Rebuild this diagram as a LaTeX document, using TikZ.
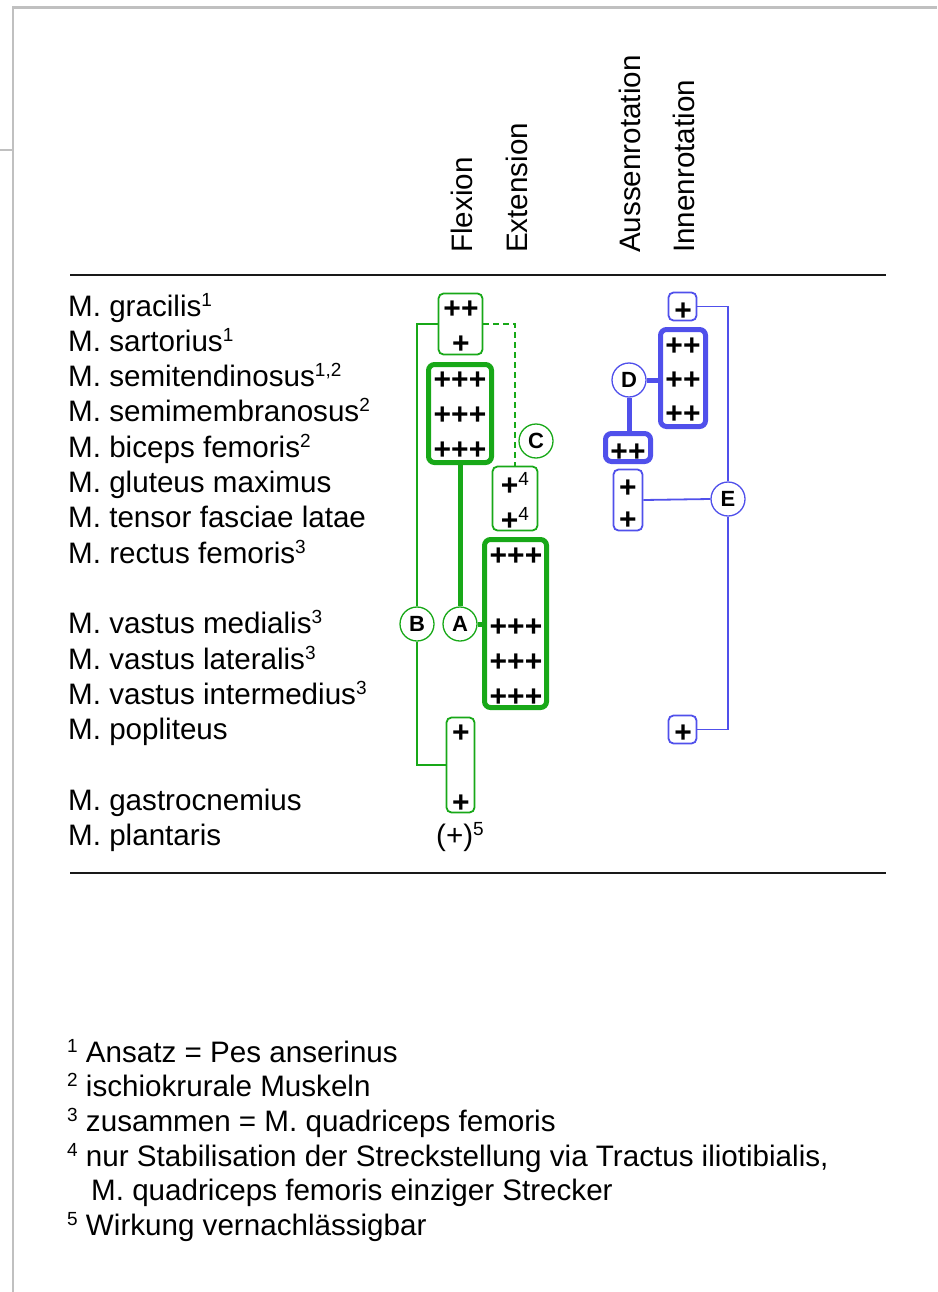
\documentclass[tikz,border=0pt]{standalone}
\usepackage{fontspec}
\setmainfont{Liberation Sans}
\definecolor{grn}{RGB}{24,168,24}
\definecolor{blu}{RGB}{80,80,235}
\definecolor{framegray}{RGB}{192,192,192}
\newcommand\sups[1]{\raisebox{10pt}{\fontsize{19}{19}\selectfont #1}}
\begin{document}
\begin{tikzpicture}[x=1pt,y=-1pt,
  lbl/.style={anchor=base west, inner sep=0, font=\fontsize{29.6}{35}\selectfont},
  hdr/.style={rotate=90, anchor=base west, inner sep=0, font=\fontsize{29.6}{35}\selectfont},
  pl/.style={anchor=base, inner sep=0, font=\bfseries\fontsize{30}{35}\selectfont},
  gbox/.style={draw=grn, line width=1.8pt, rounded corners=5pt, inner sep=0},
  gbbox/.style={draw=grn, line width=5pt, rounded corners=6pt, inner sep=0},
  bbox/.style={draw=blu, line width=1.8pt, rounded corners=5pt, inner sep=0},
  bbbox/.style={draw=blu, line width=5pt, rounded corners=6pt, inner sep=0},
  circ/.style={circle, fill=white, line width=1.3pt, minimum size=34pt, inner sep=0, font=\bfseries\fontsize{22}{22}\selectfont},
  gline/.style={draw=grn, line width=1.8pt},
  gbline/.style={draw=grn, line width=5pt},
  bline/.style={draw=blu, line width=1.8pt},
  bbline/.style={draw=blu, line width=5pt},
  rule/.style={draw=black!90, line width=1.4pt},
  frm/.style={draw=framegray, line width=2.6pt}
]
\useasboundingbox (0,0) rectangle (937,1292);
% frame
\draw[frm] (0,150) -- (13,150);
\draw[frm] (13,1292) -- (13,7.3) -- (937,7.3);

% headers
\node[hdr] (h1) at (472,253) {Flexion};
\node[hdr] (h2) at (527,253) {Extension};
\node[hdr] (h3) at (640,253) {Aussenrotation};
\node[hdr] (h4) at (694,253) {Innenrotation};

% rules
\draw[rule] (70,275) -- (886,275);
\draw[rule] (70,873) -- (886,873);

% row labels
\node[lbl] (l0)  at (68,316)   {M. gracilis\sups{1}};
\node[lbl] (l1)  at (68,351.3) {M. sartorius\sups{1}};
\node[lbl] (l2)  at (68,386.6) {M. semitendinosus\sups{1,2}};
\node[lbl] (l3)  at (68,421.9) {M. semimembranosus\sups{2}};
\node[lbl] (l4)  at (68,457.2) {M. biceps femoris\sups{2}};
\node[lbl] (l5)  at (68,492.5) {M. gluteus maximus};
\node[lbl] (l6)  at (68,527.8) {M. tensor fasciae latae};
\node[lbl] (l7)  at (68,563.1) {M. rectus femoris\sups{3}};
\node[lbl] (l9)  at (68,633.7) {M. vastus medialis\sups{3}};
\node[lbl] (l10) at (68,669.0) {M. vastus lateralis\sups{3}};
\node[lbl] (l11) at (68,704.3) {M. vastus intermedius\sups{3}};
\node[lbl] (l12) at (68,739.6) {M. popliteus};
\node[lbl] (l14) at (68,810.2) {M. gastrocnemius};
\node[lbl] (l15) at (68,845.5) {M. plantaris};

% green boxes
\node[gbox,  minimum width=44pt, minimum height=61pt]  (G1) at (460.5,324) {};
\node[gbbox, minimum width=63pt, minimum height=98pt]  (G2) at (460,413.5) {};
\node[gbox,  minimum width=45pt, minimum height=64pt]  (G3) at (515,498.5) {};
\node[gbbox, minimum width=62pt, minimum height=168pt] (G4) at (515.5,623.5) {};
\node[gbox,  minimum width=28pt, minimum height=95pt]  (G5) at (460.5,765) {};

% blue boxes
\node[bbox,  minimum width=28pt, minimum height=28pt] (Bl1) at (682.5,306.5) {};
\node[bbbox, minimum width=45pt, minimum height=97pt] (Bl2) at (683,378) {};
\node[bbbox, minimum width=45pt, minimum height=28pt] (Bl3) at (628,447.5) {};
\node[bbox,  minimum width=29pt, minimum height=61pt] (Bl4) at (628,500) {};
\node[bbox,  minimum width=28pt, minimum height=28pt] (Bl5) at (682.5,729.5) {};

% plus entries (Flexion)
\node[pl] (p1)  at (461,318.5) {++};
\node[pl] (p2)  at (461,353.8) {+};
\node[pl] (p3)  at (460,389.1) {+++};
\node[pl] (p4)  at (460,424.4) {+++};
\node[pl] (p5)  at (460,459.7) {+++};
\node[pl] (p6)  at (461,742.1) {+};
\node[pl] (p7)  at (461,812.7) {+};
\node[lbl, anchor=base] (p8)  at (460,845.5) {(+)\sups{5}};
% Extension
\node[pl] (p9)  at (515,495.5) {+\sups{\mdseries 4}};
\node[pl] (p10) at (515,530.3) {+\sups{\mdseries 4}};
\node[pl] (p11) at (516,565.6) {+++};
\node[pl] (p12) at (516,636.2) {+++};
\node[pl] (p13) at (516,671.5) {+++};
\node[pl] (p14) at (516,706.8) {+++};
% Aussenrotation
\node[pl] (p15) at (628,461.2) {++};
\node[pl] (p16) at (628,497.5) {+};
\node[pl] (p17) at (628,529.8) {+};
% Innenrotation
\node[pl] (p18) at (683,320.0) {+};
\node[pl] (p19) at (683,355.3) {++};
\node[pl] (p20) at (683,389.6) {++};
\node[pl] (p21) at (683,423.9) {++};
\node[pl] (p22) at (683,742.1) {+};

% circles
\node[circ, draw=grn] (A) at (460,624) {A};
\node[circ, draw=grn] (B) at (417,624) {B};
\node[circ, draw=grn] (C) at (536,441) {C};
\node[circ, draw=blu] (D) at (629,380) {D};
\node[circ, draw=blu] (E) at (728,499) {E};

% green connectors
\draw[gline] (G1.west) -| (B.north);
\draw[gline] (B.south) |- (G5.west);
\draw[gbline] (G2.south) -- (A.north);
\draw[gbline] (A.east) -- (A.east -| G4.west);
\draw[gline, dash pattern=on 6pt off 4pt] (G1.east) -| (G3.north);

% blue connectors
\draw[bbline] (D.east) -- (D.east -| Bl2.west);
\draw[bbline] (D.south) -- (D.south |- Bl3.north);
\draw[bline] (Bl1.east) -| (E.north);
\draw[bline] (E.south) |- (Bl5.east);
\draw[bline] (Bl4.east) -- (E.west);

% footnotes
\node[lbl] (f1) at (67,1062)   {\sups{1} Ansatz = Pes anserinus};
\node[lbl] (f2) at (67,1096.7) {\sups{2} ischiokrurale Muskeln};
\node[lbl] (f3) at (67,1131.4) {\sups{3} zusammen = M. quadriceps femoris};
\node[lbl] (f4) at (67,1166.1) {\sups{4} nur Stabilisation der Streckstellung via Tractus iliotibialis,};
\node[lbl] (f5) at (91,1200.8) {M. quadriceps femoris einziger Strecker};
\node[lbl] (f6) at (67,1235.5) {\sups{5} Wirkung vernachlässigbar};
\end{tikzpicture}
\end{document}
